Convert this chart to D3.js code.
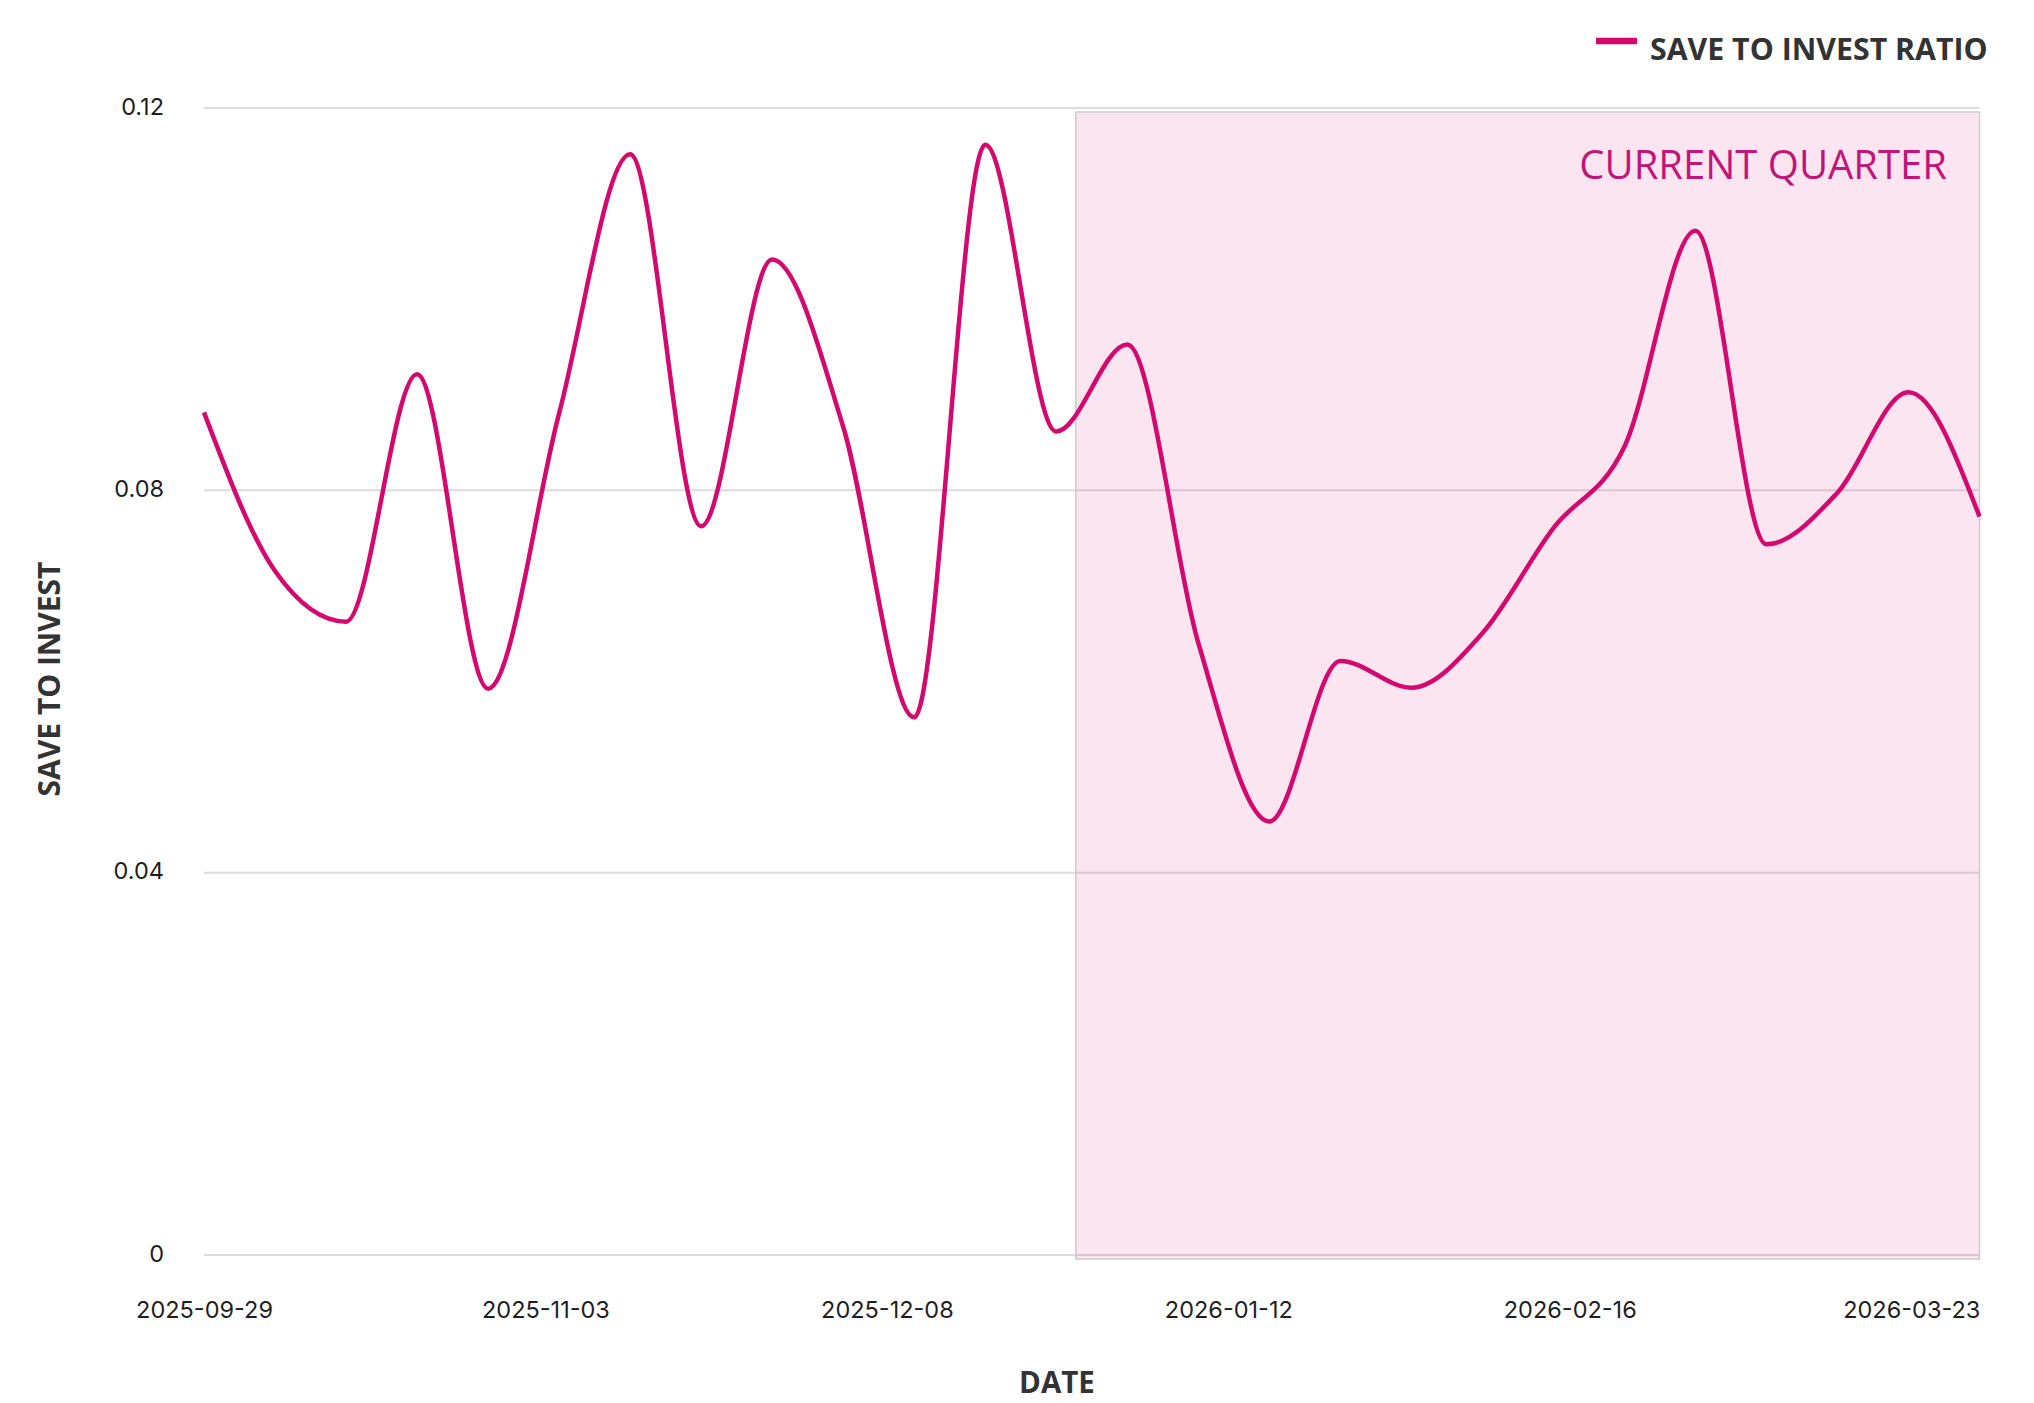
<!DOCTYPE html>
<html lang="en">
<head>
<meta charset="UTF-8">
<title>Save to invest ratio</title>
<script src="https://d3js.org/d3.v7.min.js"></script>
<style>
  body { margin: 0; background: #fff; }
  .tick text { font-family: Inter, "Noto Sans", sans-serif; font-size: 23.5px; fill: #1f1f1f; }
  .grid line { stroke: #dcdcdc; stroke-width: 2px; }
  .title { font-family: "Open Sans", sans-serif; font-weight: 700; font-size: 30px; fill: #333; }
</style>
</head>
<body>
<script>
// weekly data
var dates = ["2025-09-29","2025-10-06","2025-10-13","2025-10-20","2025-10-27",
             "2025-11-03","2025-11-10","2025-11-17","2025-11-24","2025-12-01",
             "2025-12-08","2025-12-15","2025-12-22","2025-12-29","2026-01-05",
             "2026-01-12","2026-01-19","2026-01-26","2026-02-02","2026-02-09",
             "2026-02-16","2026-02-23","2026-03-02","2026-03-09","2026-03-16",
             "2026-03-23"];
var ratio = [0.0881,0.0715,0.0662,0.0921,0.0592,
             0.0880,0.1151,0.0762,0.1041,0.0866,
             0.0562,0.1161,0.0861,0.0952,0.0640,
             0.0453,0.0621,0.0593,0.0650,0.0760,
             0.0845,0.1071,0.0743,0.0797,0.0902,
             0.0772];
var xTicks = ["2025-09-29","2025-11-03","2025-12-08","2026-01-12","2026-02-16","2026-03-23"];
var axisEnd = "2026-03-30";
var yTicks = [0, 0.04, 0.08, 0.12];
var yTickLabels = ["0", "0.04", "0.08", "0.12"];
var quarterStart = "2025-12-27T09:00:00Z";
var seriesName = "SAVE TO INVEST RATIO";

var W = 2034, H = 1403;
var plotL = 204, plotR = 1979.5, plotT = 107.5, plotB = 1254.5;
var lineColor = "#d4096f";

var parse = d3.utcParse("%Y-%m-%d");
var fmt = d3.utcFormat("%Y-%m-%d");

var svg = d3.select("body").append("svg")
  .attr("width", W).attr("height", H);

// scales
var xTime = d3.scaleUtc()
  .domain([parse(dates[0]), parse(axisEnd)])
  .range([plotL, plotR]);
var xPoint = d3.scalePoint()
  .domain(dates)
  .range([plotL, plotR]);
var y = d3.scaleLinear()
  .domain([0, 0.12])
  .range([plotB, plotT]);

// horizontal gridlines + y labels
var yAxis = d3.axisLeft(y)
  .tickValues(yTicks)
  .tickFormat(function(d, i){ return yTickLabels[i]; })
  .tickSize(-(plotR - plotL))
  .tickPadding(40);
var gy = svg.append("g")
  .attr("class", "grid")
  .attr("transform", "translate(" + plotL + ",0)")
  .call(yAxis);
gy.select(".domain").remove();
gy.selectAll(".tick text").attr("dy", "0.28em");

// current quarter band
var qx = xTime(new Date(quarterStart));
svg.append("rect")
  .attr("x", qx)
  .attr("y", plotT + 4.5)
  .attr("width", plotR - qx)
  .attr("height", plotB - plotT)
  .attr("fill", lineColor)
  .attr("fill-opacity", 0.105)
  .attr("stroke", "#cccccc")
  .attr("stroke-width", 1.5);

svg.append("text")
  .attr("x", 1947)
  .attr("y", 179)
  .attr("text-anchor", "end")
  .style("font-family", "'Open Sans', sans-serif")
  .style("font-size", "40px")
  .attr("fill", "#c21579")
  .text("CURRENT QUARTER");

// x axis labels
var xAxis = d3.axisBottom(xTime)
  .tickValues(xTicks.map(function(d){ return parse(d); }))
  .tickFormat(fmt)
  .tickSize(0);
var gx = svg.append("g")
  .attr("transform", "translate(0," + plotB + ")")
  .call(xAxis);
gx.select(".domain").remove();
gx.selectAll(".tick text").attr("y", 55).attr("dy", "0.35em");

// the line
var line = d3.line()
  .x(function(d, i){ return xPoint(dates[i]); })
  .y(function(d){ return y(d); })
  .curve(d3.curveMonotoneX);

svg.append("path")
  .datum(ratio)
  .attr("d", line)
  .attr("fill", "none")
  .attr("stroke", lineColor)
  .attr("stroke-width", 4.5);

// axis titles
svg.append("text")
  .attr("class", "title")
  .attr("transform", "translate(49,679) rotate(-90)")
  .attr("text-anchor", "middle")
  .attr("dy", "0.36em")
  .text("SAVE TO INVEST");

svg.append("text")
  .attr("class", "title")
  .attr("x", 1057)
  .attr("y", 1382)
  .attr("text-anchor", "middle")
  .attr("dy", "0.36em")
  .style("font-size", "29.5px")
  .text("DATE");

// legend
svg.append("line")
  .attr("x1", 1596).attr("x2", 1637)
  .attr("y1", 41).attr("y2", 41)
  .attr("stroke", lineColor)
  .attr("stroke-width", 6.5);
svg.append("text")
  .attr("class", "title")
  .attr("x", 1650)
  .attr("y", 49)
  .attr("dy", "0.36em")
  .style("font-size", "30.3px")
  .text(seriesName);
</script>
</body>
</html>
